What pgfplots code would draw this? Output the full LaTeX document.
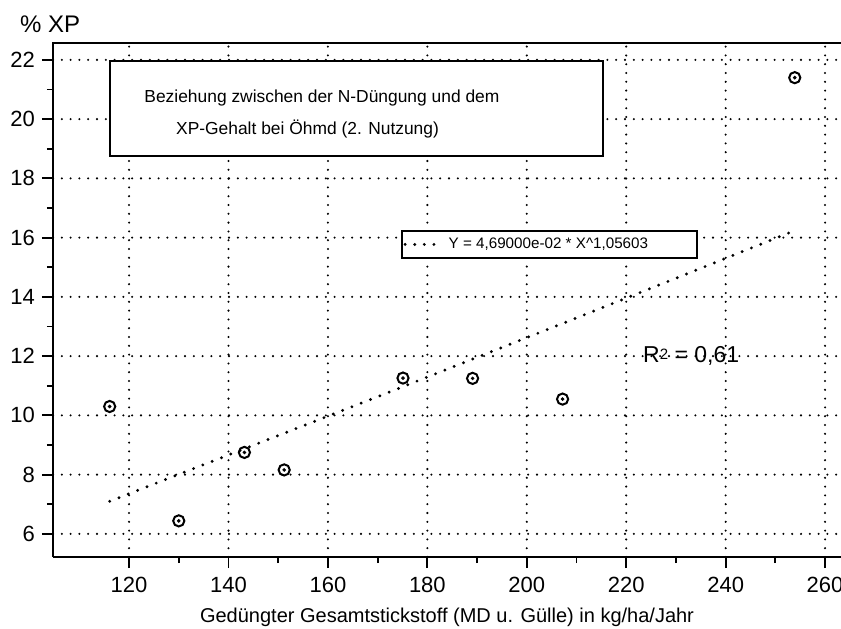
\documentclass[border=0pt]{standalone}
\usepackage{fontspec}
\setmainfont{Liberation Sans}
\usepackage{pgfplots}
\pgfplotsset{compat=1.18}
\begin{document}
\begin{tikzpicture}
\begin{axis}[
  scale only axis,
  width=394pt, height=257pt,
  xmin=104.7, xmax=263.2,
  ymin=5.22, ymax=22.57,
  xtick={120,140,...,260},
  ytick={6,8,...,22},
  minor x tick num=1,
  minor y tick num=1,
  tick align=outside,
  tick pos=left,
  major tick length=5.5pt,
  minor tick length=3pt,
  every tick/.style={black, line width=0.9pt},
  axis line style={draw=none},
  grid=major,
  major grid style={black, line width=1.15pt, line cap=round, dash pattern=on 0pt off 4.4pt},
  /pgf/number format/assume math mode=true,
  tick label style={font=\fontsize{11}{13}\selectfont},
  xticklabel style={anchor=base, yshift=-12pt},
  xlabel={Gedüngter Gesamtstickstoff (MD u. Gülle) in kg/ha/Jahr},
  xlabel style={at={(axis description cs:0.5,0)}, anchor=base, yshift=-32.5pt, font=\fontsize{10}{12}\selectfont},
  clip=false,
  legend style={at={(axis cs:174.6,16.27)}, anchor=north west, draw=black, line width=1pt,
    inner xsep=1pt, inner ysep=1.5pt,
    nodes={font=\fontsize{7.6}{9}\selectfont, inner sep=2pt}},
  legend image code/.code={\draw[line width=1.6pt, line cap=round, dash pattern=on 0pt off 4.8pt] (0pt,0pt) -- (19pt,0pt);},
]
% axis lines: left, top, bottom
\draw[line width=1pt] (rel axis cs:0,0) -- (rel axis cs:0,1) -- (rel axis cs:1,1);
\draw[line width=1pt] (rel axis cs:0,0) -- (rel axis cs:1,0);
% title box
\draw[line width=1pt, fill=white] (axis cs:116.2,21.95) rectangle (axis cs:215.4,18.74);
\node[font=\fontsize{8.7}{10}\selectfont, anchor=center] at (axis cs:158.8,20.70) {Beziehung zwischen der N-Düngung und dem};
\node[font=\fontsize{8.7}{10}\selectfont, anchor=center] at (axis cs:155.9,19.65) {XP-Gehalt bei Öhmd (2. Nutzung)};
% fit line
\addplot[black, line width=1.6pt, line cap=round, dash pattern=on 0pt off 5pt] coordinates {
  (116.1,7.10) (130,8.01) (150,9.32) (170,10.63) (190,11.96) (210,13.29) (230,14.63) (254.5,16.28)
};
\addlegendentry{\makebox[121pt][l]{Y = 4,69000e-02 * X\textasciicircum 1,05603}}
% data points
\addplot[only marks, mark=o, mark size=2.8pt, mark options={line width=1pt, black}, forget plot] coordinates {
  (116.1,10.30) (130.0,6.44) (143.2,8.75) (151.2,8.16) (175.1,11.26) (189.1,11.25) (207.2,10.55) (253.9,21.40)
};
\addplot[only marks, mark=*, mark size=0.7pt, mark options={black}, forget plot] coordinates {
  (116.1,10.30) (130.0,6.44) (143.2,8.75) (151.2,8.16) (175.1,11.26) (189.1,11.25) (207.2,10.55) (253.9,21.40)
};
\node[anchor=west, font=\fontsize{11.5}{13}\selectfont] at (axis cs:222,12) {R\raisebox{0.3ex}{\fontsize{7.5}{8}\selectfont 2} = 0,61};
\node[anchor=base west, font=\fontsize{12}{14}\selectfont] at ([xshift=-20pt,yshift=5pt]rel axis cs:0,1) {\% XP};
\coordinate (bl) at ([xshift=-26.5pt,yshift=-35.5pt]rel axis cs:0,0);
\coordinate (tr) at ([yshift=21.5pt]rel axis cs:1,1);
\end{axis}
\pgfresetboundingbox
\path[use as bounding box] (bl) rectangle (tr);
\end{tikzpicture}
\end{document}
